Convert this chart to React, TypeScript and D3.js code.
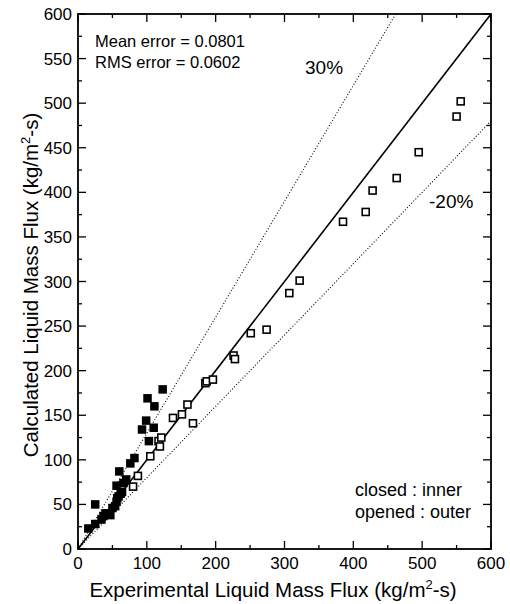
import React from "react";
import * as d3 from "d3";

const closedX = [15, 25, 25, 34, 37, 40, 44, 47, 50, 54, 56, 57, 59, 62, 64, 56, 66, 70, 60, 76, 82, 93, 99, 101, 103, 110, 111, 123];
const closedY = [23, 28, 50, 33, 37, 40, 40, 38, 46, 48, 53, 57, 59, 62, 64, 71, 74, 78, 87, 96, 102, 134, 144, 169, 121, 136, 160, 179];

const openX = [80, 87, 105, 117, 119, 121, 138, 151, 159, 167, 185, 187, 196, 226, 228, 251, 274, 307, 322, 385, 418, 428, 463, 495, 550, 556];
const openY = [70, 82, 104, 121, 115, 125, 147, 151, 162, 141, 186, 188, 190, 217, 213, 242, 246, 287, 301, 367, 378, 402, 416, 445, 485, 502];

const xTicks = [0, 100, 200, 300, 400, 500, 600];
const yTicks = [0, 50, 100, 150, 200, 250, 300, 350, 400, 450, 500, 550, 600];
const xMinor = [50, 150, 250, 350, 450, 550];
const yMinor = [25, 75, 125, 175, 225, 275, 325, 375, 425, 475, 525, 575];

const upperFactor = 1.3;
const lowerFactor = 0.8;

const FONT = "'Liberation Sans', Arial, Helvetica, sans-serif";

export default function App() {
  const x = d3.scaleLinear().domain([0, 600]).range([78, 491]);
  const y = d3.scaleLinear().domain([0, 600]).range([549, 14]);
  const [x0, x1] = x.range();
  const [y0, y1] = y.range();
  const line = d3.line<[number, number]>().x((d) => x(d[0])).y((d) => y(d[1]));
  const major = 8;
  const minor = 4;
  const cs = 8.5;
  const os = 7;

  return (
    <svg width={510} height={604} style={{ position: "absolute", left: 0, top: 0, display: "block" }} fontFamily={FONT}>
      <rect x={0} y={0} width={510} height={604} fill="#fff" />
      {/* reference lines */}
      <path d={line([[0, 0], [600, 600]]) || ""} stroke="#000" strokeWidth={1.6} fill="none" />
      <path d={line([[0, 0], [600 / upperFactor, 600]]) || ""} stroke="#000" strokeWidth={1.1} strokeDasharray="1 2" fill="none" />
      <path d={line([[0, 0], [600, 600 * lowerFactor]]) || ""} stroke="#000" strokeWidth={1.1} strokeDasharray="1 2" fill="none" />

      {/* markers */}
      {closedX.map((v, i) => (
        <rect key={"c" + i} x={x(v) - cs / 2} y={y(closedY[i]) - cs / 2} width={cs} height={cs} fill="#000" />
      ))}
      {openX.map((v, i) => (
        <rect key={"o" + i} x={x(v) - os / 2} y={y(openY[i]) - os / 2} width={os} height={os} fill="#fff" stroke="#000" strokeWidth={1.6} />
      ))}

      {/* frame */}
      <rect x={x0} y={y1} width={x1 - x0} height={y0 - y1} fill="none" stroke="#000" strokeWidth={1.8} />

      {/* ticks */}
      {xTicks.map((t) => (
        <g key={"xt" + t}>
          <line x1={x(t)} x2={x(t)} y1={y0} y2={y0 - major} stroke="#000" strokeWidth={1.3} />
          <line x1={x(t)} x2={x(t)} y1={y1} y2={y1 + major} stroke="#000" strokeWidth={1.3} />
          <text x={x(t)} y={569} textAnchor="middle" fontSize={17}>{t}</text>
        </g>
      ))}
      {xMinor.map((t) => (
        <g key={"xm" + t}>
          <line x1={x(t)} x2={x(t)} y1={y0} y2={y0 - minor} stroke="#000" strokeWidth={1.3} />
          <line x1={x(t)} x2={x(t)} y1={y1} y2={y1 + minor} stroke="#000" strokeWidth={1.3} />
        </g>
      ))}
      {yTicks.map((t) => (
        <g key={"yt" + t}>
          <line x1={x0} x2={x0 + major} y1={y(t)} y2={y(t)} stroke="#000" strokeWidth={1.3} />
          <line x1={x1} x2={x1 - major} y1={y(t)} y2={y(t)} stroke="#000" strokeWidth={1.3} />
          <text x={72} y={y(t) + 6} textAnchor="end" fontSize={17}>{t}</text>
        </g>
      ))}
      {yMinor.map((t) => (
        <g key={"ym" + t}>
          <line x1={x0} x2={x0 + minor} y1={y(t)} y2={y(t)} stroke="#000" strokeWidth={1.3} />
          <line x1={x1} x2={x1 - minor} y1={y(t)} y2={y(t)} stroke="#000" strokeWidth={1.3} />
        </g>
      ))}

      {/* annotations */}
      <text x={95} y={47} fontSize={16.5}>Mean error = 0.0801</text>
      <text x={95} y={68} fontSize={16.5}>RMS error = 0.0602</text>
      <text x={305} y={74} fontSize={19}>30%</text>
      <text x={429} y={208} fontSize={19}>-20%</text>
      <text x={355} y={496} fontSize={18}>closed : inner</text>
      <text x={355} y={518} fontSize={18}>opened : outer</text>

      {/* axis titles */}
      <text x={273} y={597} textAnchor="middle" fontSize={20.5}>
        Experimental Liquid Mass Flux (kg/m<tspan fontSize={13} dy={-8}>2</tspan><tspan dy={8}>-s)</tspan>
      </text>
      <text transform={`translate(38, 285) rotate(-90)`} textAnchor="middle" fontSize={20.5}>
        Calculated Liquid Mass Flux (kg/m<tspan fontSize={13} dy={-8}>2</tspan><tspan dy={8}>-s)</tspan>
      </text>
    </svg>
  );
}
